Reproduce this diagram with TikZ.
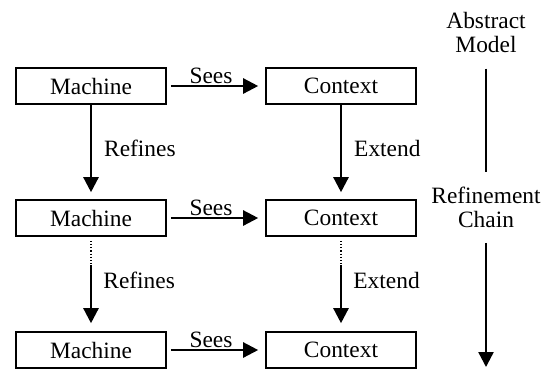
\documentclass[tikz,border=0pt]{standalone}
\usepackage{fontspec}
\setmainfont{Liberation Serif}
\usetikzlibrary{arrows.meta}
\begin{document}
\begin{tikzpicture}[x=0.5pt,y=-0.5pt,
    font=\fontsize{11.7}{12}\selectfont,
    model/.style={draw,line width=0.8pt,minimum width=75pt,minimum height=18pt,inner sep=0pt},
    link/.style={line width=1.2pt,-{Triangle[length=7.5pt,width=7.5pt]}},
    trail/.style={densely dotted,line width=0.6pt},
    tag/.style={right,inner sep=0pt,xshift=6pt,yshift=2pt}]
        \useasboundingbox (0,0) rectangle (550,371);

        \node[model] (m1) at (91,86) {Machine};
        \node[model] (m2) at (91,218) {Machine};
        \node[model] (m3) at (91,350) {Machine};
        \node[model] (c1) at (341,86) {Context};
        \node[model] (c2) at (341,218) {Context};
        \node[model] (c3) at (341,350) {Context};

        \draw[link,shorten <=2pt,shorten >=3.5pt] (m1) -- node[above,inner sep=0.5pt,xshift=-2.5pt] {Sees} (c1);
        \draw[link,shorten <=2pt,shorten >=3.5pt] (m2) -- node[above,inner sep=0.5pt,xshift=-2.5pt] {Sees} (c2);
        \draw[link,shorten <=2pt,shorten >=3.5pt] (m3) -- node[above,inner sep=0.5pt,xshift=-2.5pt] {Sees} (c3);

        \draw[link,shorten >=3.5pt] (m1) -- node[tag] {Refines} (m2);
        \draw[link,shorten >=3.5pt] (c1) -- node[tag] {Extend} (c2);

        \coordinate (km) at (91,265);
        \coordinate (kc) at (341,265);
        \draw[trail,shorten <=2pt] (m2) -- (km);
        \draw[trail,shorten <=2pt] (c2) -- (kc);
        \draw[link,shorten >=4pt] (km) -- (m3);
        \draw[link,shorten >=4pt] (kc) -- (c3);
        \path (m2) -- node[tag] {Refines} (m3);
        \path (c2) -- node[tag] {Extend} (c3);

        \node[align=center,inner sep=0pt] (abs) at (486,32) {Abstract\\Model};
        \node[align=center,inner sep=0pt] (chain) at (486,207) {Refinement\\Chain};
        \coordinate (low) at (486,367);
        \draw[line width=1.2pt,shorten <=8pt,shorten >=7pt] (abs) -- (chain);
        \draw[link,shorten <=7.5pt] (chain) -- (low);
\end{tikzpicture}
\end{document}
